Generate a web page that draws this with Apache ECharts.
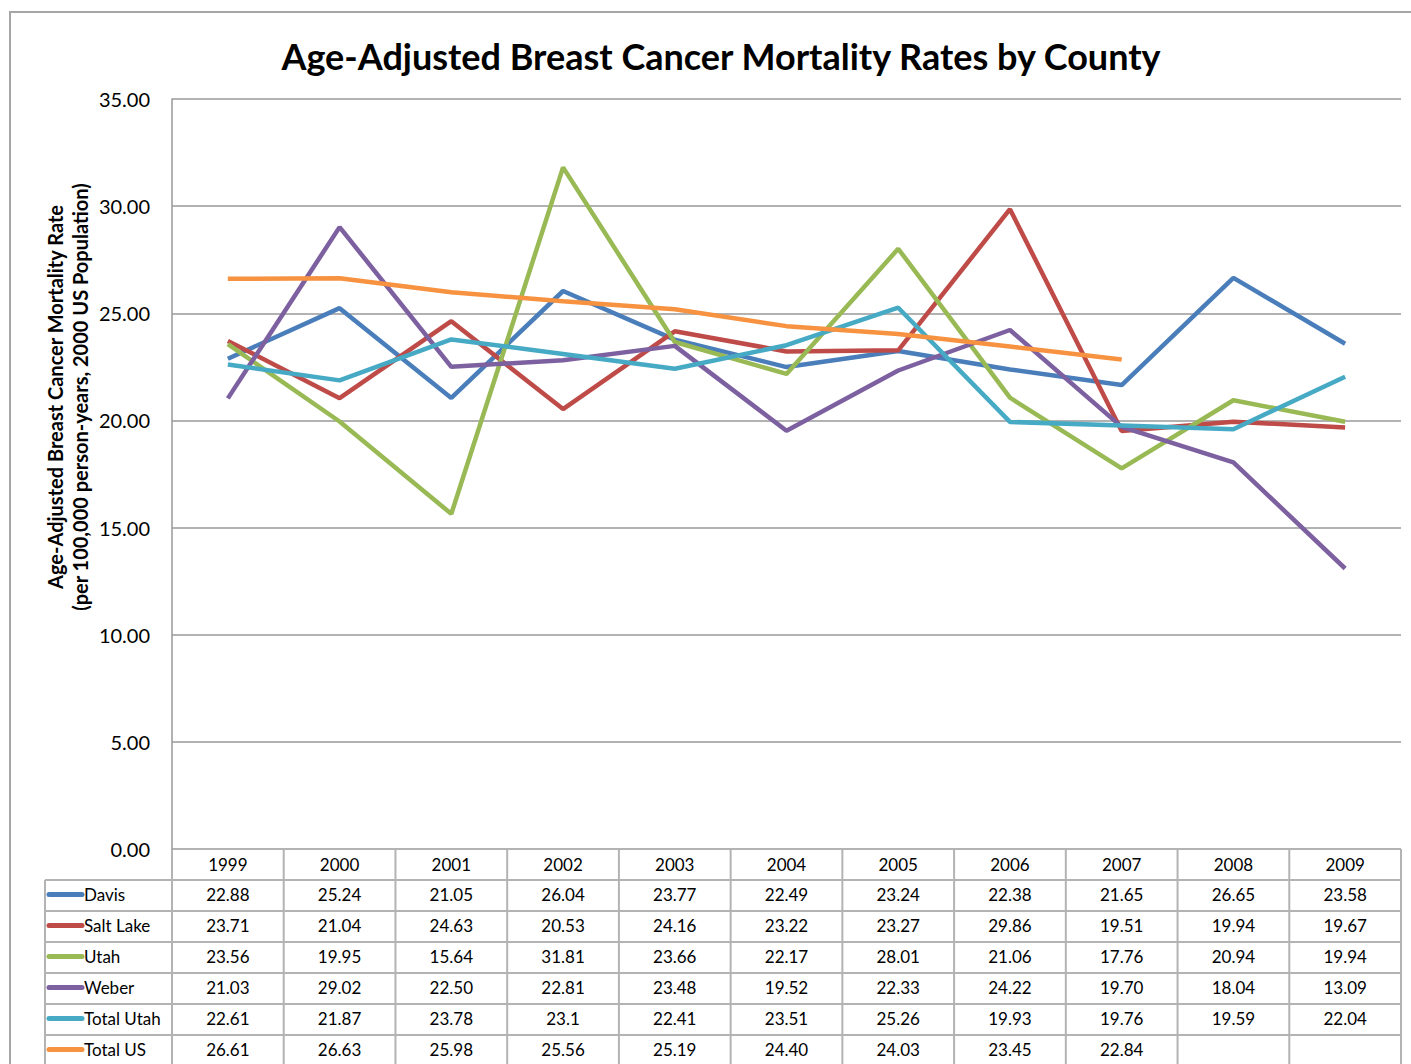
<!DOCTYPE html>
<html>
<head>
<meta charset="utf-8">
<title>Breast Cancer Mortality</title>
<style>
  html, body { margin: 0; padding: 0; background: #fff; }
  #main { width: 1411px; height: 1064px; }
</style>
</head>
<body>
<div id="main"></div>
<script src="https://cdn.jsdelivr.net/npm/echarts@6/dist/echarts.min.js"></script>
<script>
var years = ['1999', '2000', '2001', '2002', '2003', '2004', '2005', '2006', '2007', '2008', '2009'];
var names = ['Davis', 'Salt Lake', 'Utah', 'Weber', 'Total Utah', 'Total US'];
var colors = ['#4a7ebb', '#be4b48', '#98b954', '#7d60a0', '#46aac5', '#f69240'];

var davis     = [22.88, 25.24, 21.05, 26.04, 23.77, 22.49, 23.24, 22.38, 21.65, 26.65, 23.58];
var saltLake  = [23.71, 21.04, 24.63, 20.53, 24.16, 23.22, 23.27, 29.86, 19.51, 19.94, 19.67];
var utah      = [23.56, 19.95, 15.64, 31.81, 23.66, 22.17, 28.01, 21.06, 17.76, 20.94, 19.94];
var weber     = [21.03, 29.02, 22.50, 22.81, 23.48, 19.52, 22.33, 24.22, 19.70, 18.04, 13.09];
var totalUtah = [22.61, 21.87, 23.78, 23.1, 22.41, 23.51, 25.26, 19.93, 19.76, 19.59, 22.04];
var totalUS   = [26.61, 26.63, 25.98, 25.56, 25.19, 24.40, 24.03, 23.45, 22.84, null, null];

// table shows the values as typed in the source sheet
var tableText = [
  ['22.88', '25.24', '21.05', '26.04', '23.77', '22.49', '23.24', '22.38', '21.65', '26.65', '23.58'],
  ['23.71', '21.04', '24.63', '20.53', '24.16', '23.22', '23.27', '29.86', '19.51', '19.94', '19.67'],
  ['23.56', '19.95', '15.64', '31.81', '23.66', '22.17', '28.01', '21.06', '17.76', '20.94', '19.94'],
  ['21.03', '29.02', '22.50', '22.81', '23.48', '19.52', '22.33', '24.22', '19.70', '18.04', '13.09'],
  ['22.61', '21.87', '23.78', '23.1', '22.41', '23.51', '25.26', '19.93', '19.76', '19.59', '22.04'],
  ['26.61', '26.63', '25.98', '25.56', '25.19', '24.40', '24.03', '23.45', '22.84', '', '']
];
var allSeries = [davis, saltLake, utah, weber, totalUtah, totalUS];

var FONT = 'Lato, "Open Sans", sans-serif';
var gridLeft = 172, gridRight = 10, gridTop = 99, gridBottom = 215;
var rowH = 31;
var legendLeft = 45;

var myChart = echarts.init(document.getElementById('main'), null, { renderer: 'svg' });

var series = names.map(function (n, i) {
  return {
    name: n,
    type: 'line',
    data: allSeries[i],
    symbol: 'none',
    lineStyle: { color: colors[i], width: 4.5 },
    itemStyle: { color: colors[i] },
    animation: false
  };
});

option = {
  backgroundColor: '#fff',
  animation: false,
  title: {
    text: 'Age-Adjusted Breast Cancer Mortality Rates by County',
    left: 716,
    top: 33,
    textAlign: 'center',
    textStyle: { fontFamily: FONT, fontWeight: 'bold', fontSize: 36, color: '#000' }
  },
  grid: { left: gridLeft, right: gridRight, top: gridTop, bottom: gridBottom },
  xAxis: {
    type: 'category',
    data: years,
    boundaryGap: true,
    axisLine: { show: false },
    axisTick: { show: false },
    axisLabel: { show: false },
    splitLine: { show: false }
  },
  yAxis: {
    type: 'value',
    min: 0,
    max: 35,
    interval: 5,
    axisLine: { show: true, lineStyle: { color: '#999', width: 1.5 } },
    axisTick: { show: false },
    axisLabel: {
      formatter: function (v) { return v.toFixed(2); },
      fontFamily: FONT, fontSize: 20, color: '#000', margin: 22,
      padding: [5, 0, 0, 0]
    },
    splitLine: { lineStyle: { color: '#999', width: 1.5 } }
  },
  series: series
};
myChart.setOption(option);

// data table under the plot, laid out on the category axis
var els = [];
var lineColor = '#b3b3b3';
var x0 = myChart.convertToPixel({ xAxisIndex: 0 }, years[0]);
var x1 = myChart.convertToPixel({ xAxisIndex: 0 }, years[1]);
var colW = x1 - x0;
var yTop = myChart.convertToPixel({ yAxisIndex: 0 }, 0);
var tableRight = gridLeft + colW * years.length;
var rowsBottom = yTop + rowH * (names.length + 1);

// outer frame of the chart
els.push({ type: 'polyline', shape: { points: [[10, 1064], [10, 12], [1411, 12]] },
  style: { stroke: '#a6a6a6', lineWidth: 2, fill: null } });

// vertical lines
for (var c = 0; c <= years.length; c++) {
  var xv = gridLeft + colW * c;
  els.push({ type: 'line', shape: { x1: xv, y1: yTop, x2: xv, y2: rowsBottom },
    style: { stroke: lineColor, lineWidth: 2 } });
}
els.push({ type: 'line', shape: { x1: legendLeft, y1: yTop + rowH, x2: legendLeft, y2: rowsBottom },
  style: { stroke: lineColor, lineWidth: 2 } });
// horizontal lines
els.push({ type: 'line', shape: { x1: gridLeft, y1: yTop, x2: tableRight, y2: yTop },
  style: { stroke: lineColor, lineWidth: 2 } });
for (var r = 1; r <= names.length + 1; r++) {
  var yh = yTop + rowH * r;
  els.push({ type: 'line', shape: { x1: legendLeft, y1: yh, x2: tableRight, y2: yh },
    style: { stroke: lineColor, lineWidth: 2 } });
}
// year header
years.forEach(function (y, j) {
  els.push({ type: 'text', style: {
    text: y, x: myChart.convertToPixel({ xAxisIndex: 0 }, y), y: yTop + rowH / 2,
    align: 'center', verticalAlign: 'middle', font: '17px ' + FONT, fill: '#000' } });
});
// rows
names.forEach(function (n, i) {
  var yc = yTop + rowH * (i + 1) + rowH / 2 - 1;
  els.push({ type: 'line', shape: { x1: legendLeft + 4, y1: yc, x2: legendLeft + 37, y2: yc },
    style: { stroke: colors[i], lineWidth: 5, lineCap: 'round' } });
  els.push({ type: 'text', style: {
    text: n, x: legendLeft + 39, y: yc, align: 'left', verticalAlign: 'middle',
    font: '17px ' + FONT, fill: '#000' } });
  tableText[i].forEach(function (t, j) {
    els.push({ type: 'text', style: {
      text: t, x: myChart.convertToPixel({ xAxisIndex: 0 }, years[j]), y: yc,
      align: 'center', verticalAlign: 'middle', font: '17px ' + FONT, fill: '#000' } });
  });
});
// axis title
els.push({ type: 'text', x: 67, y: 397, rotation: Math.PI / 2, style: {
  text: 'Age-Adjusted Breast Cancer Mortality Rate\n(per 100,000 person-years, 2000 US Population)',
  align: 'center', verticalAlign: 'middle', font: 'bold 20px ' + FONT, fill: '#000', lineHeight: 25 } });

myChart.setOption({ graphic: { elements: els } });
</script>
</body>
</html>
